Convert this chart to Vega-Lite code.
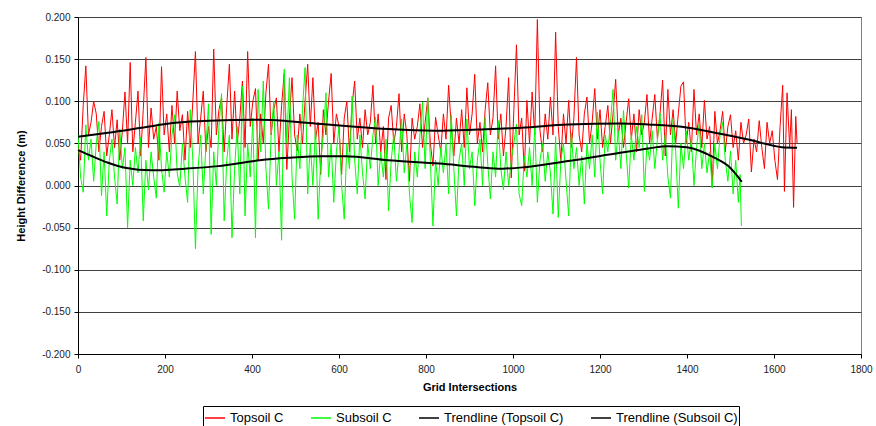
{
  "$schema": "https://vega.github.io/schema/vega-lite/v6.json",
  "width": 783,
  "height": 337,
  "autosize": "none",
  "padding": {"left": 78, "top": 17, "right": 15, "bottom": 72},
  "background": "white",
  "config": {
    "view": {"stroke": "#808080", "strokeWidth": 1},
    "font": "Liberation Sans",
    "axis": {
      "labelFont": "Liberation Sans",
      "labelFontSize": 10,
      "labelColor": "#222222",
      "titleFont": "Liberation Sans",
      "titleFontSize": 11,
      "titleFontWeight": "bold",
      "titleColor": "#000000",
      "domainColor": "#000000",
      "tickColor": "#000000",
      "tickSize": 4
    },
    "legend": {
      "labelFont": "Liberation Sans",
      "labelFontSize": 13,
      "labelColor": "#000000"
    }
  },
  "datasets": {
    "top": [
      {"x":0,"v":0.045},{"x":6,"v":0.030},{"x":12,"v":0.095},{"x":18,"v":0.142},{"x":24,"v":0.060},{"x":30,"v":0.075},{"x":36,"v":0.100},{"x":42,"v":0.085},{"x":48,"v":0.040},{"x":54,"v":0.070},
      {"x":60,"v":0.088},{"x":66,"v":0.035},{"x":72,"v":0.060},{"x":78,"v":0.090},{"x":84,"v":0.045},{"x":90,"v":0.078},{"x":96,"v":0.030},{"x":102,"v":0.065},{"x":108,"v":0.111},{"x":114,"v":0.050},
      {"x":120,"v":0.146},{"x":126,"v":0.040},{"x":132,"v":0.075},{"x":138,"v":0.112},{"x":144,"v":0.035},{"x":150,"v":0.090},{"x":156,"v":0.152},{"x":162,"v":0.045},{"x":168,"v":0.092},{"x":174,"v":0.055},
      {"x":180,"v":0.070},{"x":186,"v":0.030},{"x":192,"v":0.141},{"x":198,"v":0.060},{"x":204,"v":0.085},{"x":210,"v":0.040},{"x":216,"v":0.095},{"x":222,"v":0.050},{"x":228,"v":0.112},{"x":234,"v":0.065},
      {"x":240,"v":0.084},{"x":246,"v":0.030},{"x":252,"v":0.088},{"x":258,"v":0.045},{"x":264,"v":0.100},{"x":270,"v":0.159},{"x":276,"v":0.050},{"x":282,"v":0.080},{"x":288,"v":0.112},{"x":294,"v":0.040},
      {"x":300,"v":0.070},{"x":306,"v":0.045},{"x":312,"v":0.162},{"x":318,"v":0.060},{"x":324,"v":0.090},{"x":330,"v":0.104},{"x":336,"v":0.040},{"x":342,"v":0.095},{"x":348,"v":0.144},{"x":354,"v":0.055},
      {"x":360,"v":0.112},{"x":366,"v":0.050},{"x":372,"v":0.080},{"x":378,"v":0.124},{"x":384,"v":0.045},{"x":390,"v":0.159},{"x":396,"v":0.070},{"x":402,"v":0.100},{"x":408,"v":0.115},{"x":414,"v":0.030},
      {"x":420,"v":0.085},{"x":426,"v":0.050},{"x":432,"v":0.110},{"x":438,"v":0.144},{"x":444,"v":0.060},{"x":450,"v":0.090},{"x":456,"v":0.104},{"x":462,"v":0.040},{"x":468,"v":0.095},{"x":474,"v":0.133},
      {"x":480,"v":0.019},{"x":486,"v":0.080},{"x":492,"v":0.128},{"x":498,"v":0.060},{"x":504,"v":0.041},{"x":510,"v":0.085},{"x":516,"v":0.050},{"x":522,"v":0.100},{"x":528,"v":0.144},{"x":534,"v":0.070},
      {"x":540,"v":0.128},{"x":546,"v":0.055},{"x":552,"v":0.075},{"x":558,"v":0.013},{"x":564,"v":0.090},{"x":570,"v":0.060},{"x":576,"v":0.100},{"x":582,"v":0.133},{"x":588,"v":0.050},{"x":594,"v":0.085},
      {"x":600,"v":0.070},{"x":606,"v":0.013},{"x":612,"v":0.080},{"x":618,"v":0.100},{"x":624,"v":0.040},{"x":630,"v":0.095},{"x":636,"v":0.124},{"x":642,"v":0.055},{"x":648,"v":0.080},{"x":654,"v":0.045},
      {"x":660,"v":0.090},{"x":666,"v":0.060},{"x":672,"v":0.075},{"x":678,"v":0.119},{"x":684,"v":0.050},{"x":690,"v":0.085},{"x":696,"v":0.040},{"x":702,"v":0.070},{"x":708,"v":0.007},{"x":714,"v":0.080},
      {"x":720,"v":0.095},{"x":726,"v":0.050},{"x":732,"v":0.070},{"x":738,"v":0.109},{"x":744,"v":0.040},{"x":750,"v":0.085},{"x":756,"v":0.060},{"x":762,"v":0.005},{"x":768,"v":0.080},{"x":774,"v":0.055},
      {"x":780,"v":0.070},{"x":786,"v":0.097},{"x":792,"v":0.045},{"x":798,"v":0.075},{"x":804,"v":0.104},{"x":810,"v":0.050},{"x":816,"v":0.023},{"x":822,"v":0.081},{"x":828,"v":0.060},{"x":834,"v":0.040},
      {"x":840,"v":0.085},{"x":846,"v":0.055},{"x":852,"v":0.119},{"x":858,"v":0.070},{"x":864,"v":0.035},{"x":870,"v":0.080},{"x":876,"v":0.050},{"x":882,"v":0.090},{"x":888,"v":0.045},{"x":894,"v":0.116},
      {"x":900,"v":0.060},{"x":906,"v":0.085},{"x":912,"v":0.132},{"x":918,"v":0.050},{"x":924,"v":0.075},{"x":930,"v":0.040},{"x":936,"v":0.090},{"x":942,"v":0.122},{"x":948,"v":0.060},{"x":954,"v":0.080},
      {"x":960,"v":0.142},{"x":966,"v":0.055},{"x":972,"v":0.085},{"x":978,"v":0.035},{"x":984,"v":0.070},{"x":990,"v":0.128},{"x":996,"v":0.009},{"x":1002,"v":0.090},{"x":1008,"v":0.167},{"x":1014,"v":0.060},
      {"x":1020,"v":0.080},{"x":1026,"v":0.017},{"x":1032,"v":0.101},{"x":1038,"v":0.050},{"x":1044,"v":0.111},{"x":1050,"v":0.060},{"x":1056,"v":0.197},{"x":1062,"v":0.065},{"x":1068,"v":0.040},{"x":1074,"v":0.085},
      {"x":1080,"v":0.055},{"x":1086,"v":0.105},{"x":1092,"v":0.060},{"x":1098,"v":0.182},{"x":1104,"v":0.070},{"x":1110,"v":0.029},{"x":1116,"v":0.085},{"x":1122,"v":0.050},{"x":1128,"v":0.101},{"x":1134,"v":0.045},
      {"x":1140,"v":0.080},{"x":1146,"v":0.152},{"x":1152,"v":0.060},{"x":1158,"v":0.040},{"x":1164,"v":0.085},{"x":1170,"v":0.105},{"x":1176,"v":0.050},{"x":1182,"v":0.075},{"x":1188,"v":0.115},{"x":1194,"v":0.055},
      {"x":1200,"v":0.090},{"x":1206,"v":0.045},{"x":1212,"v":0.070},{"x":1218,"v":0.095},{"x":1224,"v":0.050},{"x":1230,"v":0.085},{"x":1236,"v":0.126},{"x":1242,"v":0.060},{"x":1248,"v":0.080},{"x":1254,"v":0.045},
      {"x":1260,"v":0.075},{"x":1266,"v":0.103},{"x":1272,"v":0.055},{"x":1278,"v":0.085},{"x":1284,"v":0.040},{"x":1290,"v":0.090},{"x":1296,"v":0.060},{"x":1302,"v":0.075},{"x":1308,"v":0.108},{"x":1314,"v":0.050},
      {"x":1320,"v":0.080},{"x":1326,"v":0.108},{"x":1332,"v":0.055},{"x":1338,"v":0.085},{"x":1344,"v":0.125},{"x":1350,"v":0.035},{"x":1356,"v":0.114},{"x":1362,"v":0.060},{"x":1368,"v":0.090},{"x":1374,"v":0.050},
      {"x":1380,"v":0.085},{"x":1386,"v":0.118},{"x":1392,"v":0.123},{"x":1398,"v":0.050},{"x":1404,"v":0.075},{"x":1410,"v":0.040},{"x":1416,"v":0.114},{"x":1422,"v":0.060},{"x":1428,"v":0.085},{"x":1434,"v":0.045},
      {"x":1440,"v":0.101},{"x":1446,"v":0.055},{"x":1452,"v":0.070},{"x":1458,"v":-0.001},{"x":1464,"v":0.088},{"x":1470,"v":0.050},{"x":1476,"v":0.065},{"x":1482,"v":0.088},{"x":1488,"v":0.040},{"x":1494,"v":0.070},
      {"x":1500,"v":0.084},{"x":1506,"v":0.045},{"x":1512,"v":0.065},{"x":1518,"v":0.030},{"x":1524,"v":0.075},{"x":1530,"v":0.050},{"x":1536,"v":0.060},{"x":1542,"v":0.079},{"x":1548,"v":0.016},{"x":1554,"v":0.055},
      {"x":1560,"v":0.040},{"x":1566,"v":0.077},{"x":1572,"v":0.045},{"x":1578,"v":0.020},{"x":1584,"v":0.075},{"x":1590,"v":0.050},{"x":1596,"v":0.065},{"x":1602,"v":0.030},{"x":1608,"v":0.007},{"x":1614,"v":0.070},
      {"x":1620,"v":0.119},{"x":1624,"v":-0.007},{"x":1630,"v":0.110},{"x":1636,"v":0.045},{"x":1640,"v":0.090},{"x":1645,"v":-0.026},{"x":1650,"v":0.082},{"x":1653,"v":0.050}
    ],
    "sub": [
      {"x":0,"v":0.060},{"x":6,"v":0.010},{"x":12,"v":-0.008},{"x":18,"v":0.072},{"x":24,"v":0.030},{"x":30,"v":0.055},{"x":36,"v":0.005},{"x":42,"v":0.050},{"x":48,"v":0.076},{"x":54,"v":-0.012},
      {"x":60,"v":0.040},{"x":66,"v":-0.036},{"x":72,"v":0.030},{"x":78,"v":0.055},{"x":84,"v":0.010},{"x":90,"v":-0.022},{"x":96,"v":0.067},{"x":102,"v":0.020},{"x":108,"v":0.045},{"x":114,"v":-0.050},
      {"x":120,"v":0.030},{"x":126,"v":0.000},{"x":132,"v":0.045},{"x":138,"v":0.015},{"x":144,"v":0.057},{"x":150,"v":-0.042},{"x":156,"v":0.030},{"x":162,"v":-0.005},{"x":168,"v":0.040},{"x":174,"v":0.010},
      {"x":180,"v":-0.015},{"x":186,"v":0.074},{"x":192,"v":0.020},{"x":198,"v":-0.008},{"x":204,"v":0.040},{"x":210,"v":0.010},{"x":216,"v":0.060},{"x":222,"v":0.084},{"x":228,"v":0.015},{"x":234,"v":-0.002},
      {"x":240,"v":0.050},{"x":246,"v":0.010},{"x":252,"v":-0.020},{"x":258,"v":0.090},{"x":264,"v":0.030},{"x":270,"v":-0.075},{"x":276,"v":0.020},{"x":282,"v":0.060},{"x":288,"v":-0.010},{"x":294,"v":0.045},
      {"x":300,"v":0.097},{"x":306,"v":-0.058},{"x":312,"v":0.040},{"x":318,"v":0.000},{"x":324,"v":0.070},{"x":330,"v":0.109},{"x":336,"v":-0.042},{"x":342,"v":0.030},{"x":348,"v":0.060},{"x":354,"v":-0.062},
      {"x":360,"v":0.020},{"x":366,"v":0.070},{"x":372,"v":-0.010},{"x":378,"v":0.118},{"x":384,"v":-0.036},{"x":390,"v":0.050},{"x":396,"v":0.010},{"x":402,"v":0.080},{"x":408,"v":-0.062},{"x":414,"v":0.114},
      {"x":420,"v":0.040},{"x":426,"v":0.124},{"x":432,"v":0.020},{"x":438,"v":-0.028},{"x":444,"v":0.060},{"x":450,"v":0.100},{"x":456,"v":0.000},{"x":462,"v":0.040},{"x":468,"v":-0.065},{"x":474,"v":0.138},
      {"x":480,"v":0.050},{"x":486,"v":0.128},{"x":492,"v":0.010},{"x":498,"v":-0.040},{"x":504,"v":0.060},{"x":510,"v":0.020},{"x":516,"v":0.090},{"x":522,"v":0.140},{"x":528,"v":-0.010},{"x":534,"v":0.050},
      {"x":540,"v":0.000},{"x":546,"v":0.070},{"x":552,"v":-0.040},{"x":558,"v":0.030},{"x":564,"v":0.060},{"x":570,"v":0.110},{"x":576,"v":0.010},{"x":582,"v":0.050},{"x":588,"v":-0.020},{"x":594,"v":0.040},
      {"x":600,"v":0.070},{"x":606,"v":0.000},{"x":612,"v":-0.040},{"x":618,"v":0.050},{"x":624,"v":0.020},{"x":630,"v":0.106},{"x":636,"v":0.030},{"x":642,"v":-0.010},{"x":648,"v":0.060},{"x":654,"v":0.015},
      {"x":660,"v":-0.016},{"x":666,"v":0.050},{"x":672,"v":0.020},{"x":678,"v":0.060},{"x":684,"v":0.081},{"x":690,"v":0.000},{"x":696,"v":0.040},{"x":702,"v":0.010},{"x":708,"v":0.055},{"x":714,"v":-0.030},
      {"x":720,"v":0.030},{"x":726,"v":0.060},{"x":732,"v":0.005},{"x":738,"v":0.040},{"x":744,"v":0.079},{"x":750,"v":0.015},{"x":756,"v":0.050},{"x":762,"v":-0.010},{"x":768,"v":-0.044},{"x":774,"v":0.040},
      {"x":780,"v":0.010},{"x":786,"v":0.060},{"x":792,"v":0.099},{"x":798,"v":0.020},{"x":804,"v":0.104},{"x":810,"v":0.030},{"x":816,"v":-0.048},{"x":822,"v":0.030},{"x":828,"v":0.000},{"x":834,"v":0.045},
      {"x":840,"v":0.015},{"x":846,"v":0.050},{"x":852,"v":-0.010},{"x":858,"v":0.084},{"x":864,"v":0.020},{"x":870,"v":-0.036},{"x":876,"v":0.030},{"x":882,"v":0.050},{"x":888,"v":0.000},{"x":894,"v":0.079},
      {"x":900,"v":0.020},{"x":906,"v":0.040},{"x":912,"v":-0.024},{"x":918,"v":0.030},{"x":924,"v":0.055},{"x":930,"v":0.000},{"x":936,"v":0.081},{"x":942,"v":0.025},{"x":948,"v":-0.016},{"x":954,"v":0.040},
      {"x":960,"v":0.010},{"x":966,"v":0.077},{"x":972,"v":0.020},{"x":978,"v":-0.005},{"x":984,"v":0.040},{"x":990,"v":0.000},{"x":996,"v":0.030},{"x":1002,"v":0.050},{"x":1008,"v":0.073},{"x":1014,"v":-0.010},
      {"x":1020,"v":-0.024},{"x":1026,"v":0.035},{"x":1032,"v":0.010},{"x":1038,"v":0.045},{"x":1044,"v":0.000},{"x":1050,"v":0.070},{"x":1056,"v":-0.020},{"x":1062,"v":0.030},{"x":1068,"v":0.050},{"x":1074,"v":0.005},
      {"x":1080,"v":0.040},{"x":1086,"v":0.015},{"x":1092,"v":-0.034},{"x":1098,"v":0.058},{"x":1104,"v":-0.038},{"x":1110,"v":0.030},{"x":1116,"v":0.050},{"x":1122,"v":0.005},{"x":1128,"v":-0.036},{"x":1134,"v":0.062},
      {"x":1140,"v":0.020},{"x":1146,"v":0.045},{"x":1152,"v":0.000},{"x":1158,"v":0.035},{"x":1164,"v":-0.022},{"x":1170,"v":0.050},{"x":1176,"v":0.020},{"x":1182,"v":0.060},{"x":1188,"v":0.010},{"x":1194,"v":0.087},
      {"x":1200,"v":0.030},{"x":1206,"v":-0.010},{"x":1212,"v":0.060},{"x":1218,"v":0.040},{"x":1224,"v":0.075},{"x":1230,"v":0.114},{"x":1236,"v":0.030},{"x":1242,"v":0.065},{"x":1248,"v":0.020},{"x":1254,"v":0.089},
      {"x":1260,"v":0.040},{"x":1266,"v":-0.003},{"x":1272,"v":0.060},{"x":1278,"v":0.030},{"x":1284,"v":0.070},{"x":1290,"v":0.045},{"x":1296,"v":0.084},{"x":1302,"v":-0.007},{"x":1308,"v":0.050},{"x":1314,"v":0.030},
      {"x":1320,"v":0.065},{"x":1326,"v":0.020},{"x":1332,"v":0.055},{"x":1338,"v":0.086},{"x":1344,"v":0.030},{"x":1350,"v":0.060},{"x":1356,"v":0.010},{"x":1362,"v":-0.015},{"x":1368,"v":0.079},{"x":1374,"v":0.040},
      {"x":1380,"v":-0.027},{"x":1386,"v":0.050},{"x":1392,"v":0.020},{"x":1398,"v":0.065},{"x":1404,"v":0.030},{"x":1410,"v":0.055},{"x":1416,"v":0.000},{"x":1422,"v":0.045},{"x":1428,"v":0.073},{"x":1434,"v":0.020},
      {"x":1440,"v":0.050},{"x":1446,"v":0.015},{"x":1452,"v":0.040},{"x":1458,"v":-0.003},{"x":1464,"v":0.050},{"x":1470,"v":0.020},{"x":1476,"v":0.060},{"x":1482,"v":0.075},{"x":1488,"v":0.030},{"x":1494,"v":0.005},
      {"x":1500,"v":0.041},{"x":1506,"v":-0.010},{"x":1512,"v":0.030},{"x":1518,"v":-0.020},{"x":1522,"v":0.013},{"x":1525,"v":-0.048}
    ],
    "toptrend": [
      {"x":0,"v":0.058},{"x":69,"v":0.0626},{"x":146,"v":0.0685},{"x":223,"v":0.0745},{"x":300,"v":0.077},{"x":418,"v":0.078},{"x":483,"v":0.0764},{"x":560,"v":0.073},{"x":637,"v":0.0697},{"x":713,"v":0.067},{"x":821,"v":0.065},{"x":920,"v":0.0665},{"x":1020,"v":0.0685},{"x":1127,"v":0.0724},{"x":1246,"v":0.0736},{"x":1311,"v":0.0724},{"x":1388,"v":0.0697},{"x":1464,"v":0.0626},{"x":1541,"v":0.0546},{"x":1618,"v":0.0455},{"x":1653,"v":0.0448}
    ],
    "subtrend": [
      {"x":0,"v":0.042},{"x":31,"v":0.035},{"x":69,"v":0.027},{"x":108,"v":0.021},{"x":169,"v":0.018},{"x":246,"v":0.020},{"x":322,"v":0.023},{"x":418,"v":0.030},{"x":483,"v":0.0328},{"x":560,"v":0.0348},{"x":614,"v":0.0348},{"x":713,"v":0.030},{"x":832,"v":0.026},{"x":920,"v":0.0218},{"x":975,"v":0.020},{"x":1028,"v":0.0218},{"x":1127,"v":0.029},{"x":1246,"v":0.0388},{"x":1311,"v":0.044},{"x":1356,"v":0.0467},{"x":1399,"v":0.0455},{"x":1464,"v":0.0328},{"x":1495,"v":0.023},{"x":1526,"v":0.0044}
    ]
  },
  "encoding": {
    "x": {
      "field": "x", "type": "quantitative",
      "scale": {"domain": [0, 1800], "nice": false, "zero": false},
      "axis": {"title": "Grid Intersections", "values": [0,200,400,600,800,1000,1200,1400,1600,1800], "format": "d", "grid": false, "labelPadding": 6, "titlePadding": 7, "labelFlush": false}
    },
    "y": {
      "field": "v", "type": "quantitative",
      "scale": {"domain": [-0.2, 0.2], "nice": false},
      "axis": {"title": "Height Difference (m)", "values": [-0.2,-0.15,-0.1,-0.05,0,0.05,0.1,0.15,0.2], "labelExpr": "replace(format(datum.value, '.3f'), '\u2212', '-')", "grid": true, "gridColor": "#404040", "gridWidth": 1, "labelPadding": 4, "titlePadding": 15}
    },
    "color": {
      "scale": {"domain": ["Topsoil C", "Subsoil C", "Trendline (Topsoil C)", "Trendline (Subsoil C)"], "range": ["#ff0000", "#00ff00", "#000000", "#000000"]},
      "legend": {
        "title": null,
        "orient": "none",
        "direction": "horizontal",
        "legendX": 125,
        "legendY": 389,
        "symbolType": "stroke",
        "symbolSize": 400,
        "symbolStrokeWidth": 1.5,
        "strokeColor": "#000000",
        "padding": 1,
        "columnPadding": 24,
        "labelOffset": 4
      }
    }
  },
  "layer": [
    {"data": {"name": "top"}, "mark": {"type": "line", "strokeWidth": 1, "clip": true}, "encoding": {"color": {"datum": "Topsoil C"}}},
    {"data": {"name": "sub"}, "mark": {"type": "line", "strokeWidth": 1, "clip": true}, "encoding": {"color": {"datum": "Subsoil C"}}},
    {"data": {"name": "toptrend"}, "mark": {"type": "line", "strokeWidth": 2, "interpolate": "monotone"}, "encoding": {"color": {"datum": "Trendline (Topsoil C)"}}},
    {"data": {"name": "subtrend"}, "mark": {"type": "line", "strokeWidth": 2, "interpolate": "monotone"}, "encoding": {"color": {"datum": "Trendline (Subsoil C)"}}}
  ]
}
